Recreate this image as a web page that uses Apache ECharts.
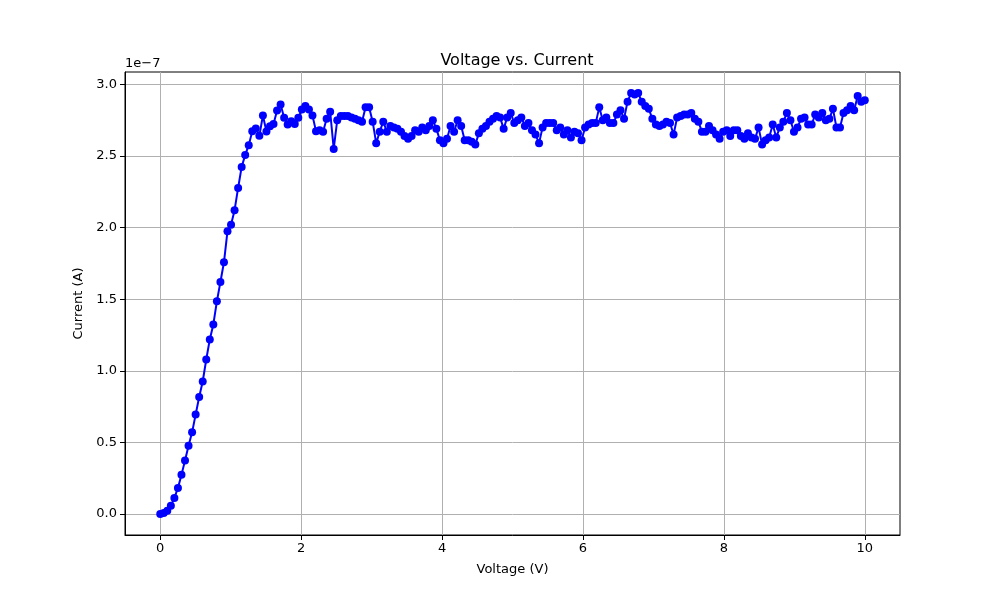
<!DOCTYPE html>
<html>
<head>
<meta charset="utf-8">
<script src="https://cdn.jsdelivr.net/npm/echarts@6/dist/echarts.min.js"></script>
<style>html,body{margin:0;padding:0;background:#fff}#c{width:1000px;height:600px}</style>
</head>
<body>
<div id="c"></div>
<script>
const titleText = "Voltage vs. Current";
const xLabel = "Voltage (V)";
const yLabel = "Current (A)";
const offsetText = "1e\u22127";
const xTicks = [0, 2, 4, 6, 8, 10];
const yTicks = [0.0, 0.5, 1.0, 1.5, 2.0, 2.5, 3.0];
const nPoints = 200;
// current in units of 1e-7 A
const current = [
  0, 0.007, 0.023, 0.058, 0.112, 0.182, 0.273, 0.374, 0.476, 0.570,
  0.694, 0.817, 0.925, 1.079, 1.219, 1.324, 1.485, 1.620, 1.758, 1.975,
  2.020, 2.122, 2.277, 2.424, 2.508, 2.576, 2.674, 2.693, 2.641, 2.783,
  2.671, 2.708, 2.724, 2.818, 2.860, 2.767, 2.720, 2.743, 2.724, 2.767,
  2.825, 2.849, 2.825, 2.783, 2.674,
  2.68, 2.67, 2.76, 2.81, 2.55, 2.75, 2.78, 2.78, 2.78, 2.77, 2.76, 2.75,
  2.74, 2.84, 2.84, 2.74, 2.59, 2.67, 2.74, 2.67, 2.71, 2.70,
  2.69, 2.67, 2.64, 2.62, 2.64, 2.68, 2.67, 2.70, 2.68, 2.71,
  2.75, 2.69, 2.61, 2.59, 2.62, 2.71, 2.67, 2.75, 2.71, 2.61,
  2.61, 2.60, 2.58, 2.66, 2.69, 2.71, 2.74, 2.76, 2.78, 2.77,
  2.69, 2.77, 2.80, 2.73, 2.75, 2.77, 2.71, 2.73, 2.68, 2.65,
  2.59, 2.70, 2.73, 2.73, 2.73, 2.68, 2.70, 2.65, 2.68, 2.63,
  2.67, 2.66, 2.61, 2.70, 2.72, 2.73, 2.73, 2.84, 2.75, 2.77,
  2.73, 2.73, 2.79, 2.82, 2.76, 2.88, 2.94, 2.93, 2.94, 2.88,
  2.85, 2.83, 2.76, 2.72, 2.71, 2.72, 2.74, 2.73, 2.65, 2.77,
  2.78, 2.79, 2.79, 2.80, 2.76, 2.74, 2.67, 2.67, 2.71, 2.68,
  2.65, 2.62, 2.67, 2.68, 2.64, 2.68, 2.68, 2.64, 2.62, 2.66,
  2.63, 2.62, 2.70, 2.58, 2.61, 2.63, 2.72, 2.63, 2.70,
  2.74, 2.80, 2.75, 2.67, 2.70, 2.76, 2.77, 2.72, 2.72, 2.79,
  2.77, 2.80, 2.75, 2.76, 2.83, 2.70, 2.70, 2.80, 2.82,
  2.85, 2.82, 2.92, 2.88, 2.89
];
// voltage sweep: evenly spaced 0..10 V
const voltage = [];
for (let i = 0; i < nPoints; i++) voltage.push(i * 10 / (nPoints - 1));

const seriesData = voltage.map((v, i) => [v, current[i]]);
const font = "DejaVu Sans";

const chart = echarts.init(document.getElementById('c'), null, {renderer: 'canvas'});
chart.setOption({
  animation: false,
  backgroundColor: '#fff',
  textStyle: {fontFamily: font},
  title: {
    text: titleText, left: 512, top: 48, textAlign: 'center',
    textStyle: {fontFamily: font, fontSize: 16, fontWeight: 'normal', color: '#000'}
  },
  graphic: [{
    type: 'text', left: 125, top: 57,
    style: {text: offsetText, fontFamily: font, fontSize: 13, fill: '#000'}
  }],
  grid: {left: 125, right: 100, top: 72, bottom: 65, show: true, borderColor: '#000', borderWidth: 1, backgroundColor: 'transparent'},
  xAxis: {
    type: 'value', min: -0.5, max: 10.5,
    name: xLabel, nameLocation: 'middle', nameGap: 28,
    nameTextStyle: {fontFamily: font, fontSize: 13, color: '#000'},
    axisLine: {show: true, onZero: false, lineStyle: {color: '#000', width: 1}},
    axisTick: {show: true, length: 5, lineStyle: {color: '#000'}, customValues: xTicks},
    axisLabel: {customValues: xTicks, fontFamily: font, fontSize: 13, color: '#000', margin: 7, formatter: v => String(v)},
    splitLine: {show: true, lineStyle: {color: '#b0b0b0', width: 1}}
  },
  yAxis: {
    type: 'value', min: -0.147, max: 3.087,
    name: yLabel, nameLocation: 'middle', nameGap: 40, nameRotate: 90,
    nameTextStyle: {fontFamily: font, fontSize: 13, color: '#000'},
    axisLine: {show: true, onZero: false, lineStyle: {color: '#000', width: 1}},
    axisTick: {show: true, length: 5, lineStyle: {color: '#000'}, customValues: yTicks},
    axisLabel: {customValues: yTicks, fontFamily: font, fontSize: 13, color: '#000', margin: 8, formatter: v => v.toFixed(1)},
    splitLine: {show: true, lineStyle: {color: '#b0b0b0', width: 1}}
  },
  series: [{
    type: 'line', data: seriesData,
    symbol: 'circle', symbolSize: 8, showAllSymbol: true,
    lineStyle: {color: '#0000ff', width: 2},
    itemStyle: {color: '#0000ff', borderWidth: 0},
    emphasis: {disabled: true}
  }]
});
</script>
</body>
</html>
